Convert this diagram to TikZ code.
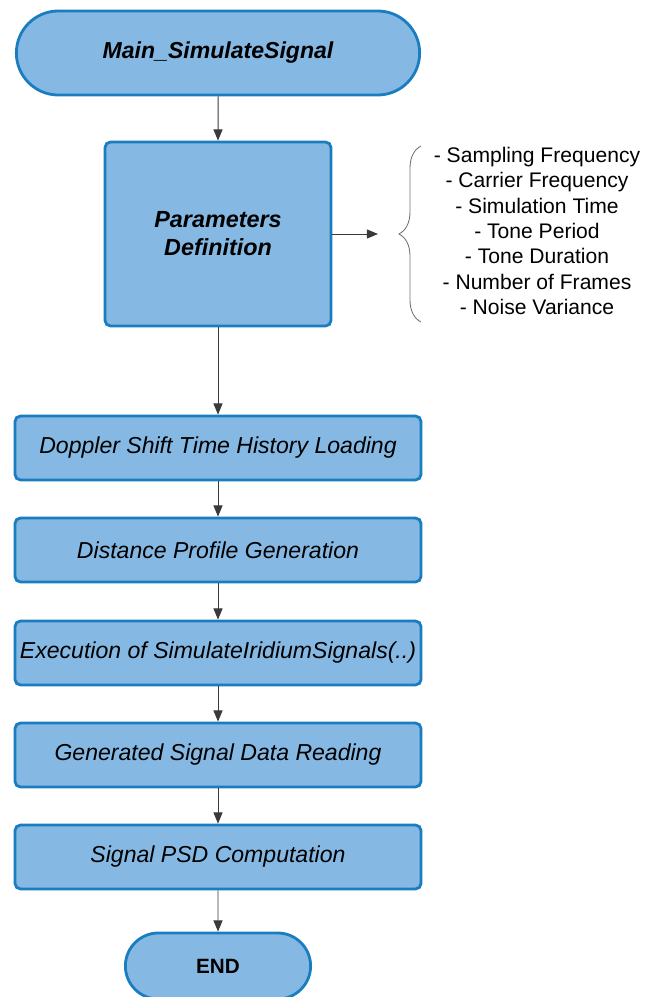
\documentclass[tikz,border=0pt]{standalone}
\usepackage{fontspec}
\setmainfont{Liberation Sans}
\usetikzlibrary{shapes.misc,arrows.meta,decorations.pathreplacing}

\definecolor{boxfill}{HTML}{85B9E3}
\definecolor{boxline}{HTML}{1A7DC0}
\definecolor{arrowgray}{HTML}{3A3A3A}
\definecolor{bracegray}{HTML}{707070}

\tikzset{
  block/.style={draw=boxline,fill=boxfill,line width=2pt,rounded corners=4pt,
    inner sep=1pt,minimum width=10.15cm,minimum height=1.6cm,
    font=\fontsize{16.4}{19}\selectfont\itshape},
  terminal/.style={draw=boxline,fill=boxfill,line width=2pt,rounded rectangle,
    inner sep=1pt,font=\fontsize{14.7}{17}\selectfont\bfseries},
  flow/.style={draw=arrowgray,line width=0.7pt,-{Triangle[length=8pt,width=6.5pt]}},
}

\begin{document}
\begin{tikzpicture}[x=0.025cm,y=-0.025cm]
\useasboundingbox (0,0) rectangle (644,997);

% start / end
\node[terminal,minimum width=10.15cm,minimum height=2.1cm,font=\fontsize{16.4}{19}\selectfont\bfseries\itshape] (main) at (218,53) {Main\_SimulateSignal};
\node[terminal,minimum width=4.7cm,minimum height=1.65cm] (finish) at (218,966) {END};

% parameters
\node[block,minimum width=5.65cm,minimum height=4.6cm,align=center,
  font=\fontsize{16.6}{19.9}\selectfont\bfseries\itshape] (params) at (218,234) {Parameters\\Definition};
\coordinate (listin) at (378,234);
\draw[flow] (params) -- (listin);
\draw[bracegray,line width=0.6pt,decorate,decoration={brace,amplitude=0.55cm}] (421,322) -- (421,146);
\node[align=center,font=\fontsize{15}{18.1}\selectfont] (paramlist) at (537,231) {%
  - Sampling Frequency\\
  - Carrier Frequency\\
  - Simulation Time\\
  - Tone Period\\
  - Tone Duration\\
  - Number of Frames\\
  - Noise Variance};

% processing steps
\node[block] (doppler) at (218,448) {Doppler Shift Time History Loading};
\node[block] (distance) at (218,550) {Distance Profile Generation};
\node[block] (execsim) at (218,653) {Execution of SimulateIridiumSignals(..)};
\node[block] (readdata) at (218,755) {Generated Signal Data Reading};
\node[block] (psd) at (218,857) {Signal PSD Computation};

\draw[flow] (main) -- (params);
\draw[flow] (params) -- (doppler);
\draw[flow] (doppler) -- (distance);
\draw[flow] (distance) -- (execsim);
\draw[flow] (execsim) -- (readdata);
\draw[flow] (readdata) -- (psd);
\draw[flow] (psd) -- (finish);
\end{tikzpicture}
\end{document}
